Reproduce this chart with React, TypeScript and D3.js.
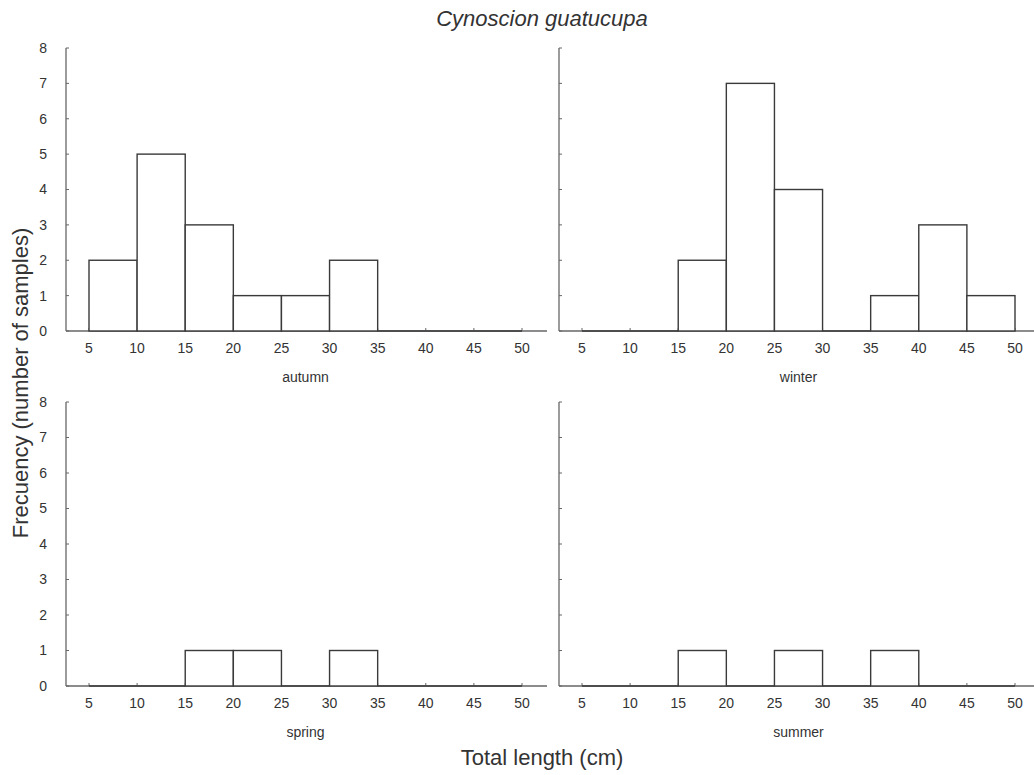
import React from "react";
import * as d3 from "d3";

const binStarts = [5, 10, 15, 20, 25, 30, 35, 40, 45];
const binWidth = 5;
const xTicks = [5, 10, 15, 20, 25, 30, 35, 40, 45, 50];
const yTicks = [0, 1, 2, 3, 4, 5, 6, 7, 8];
const seasons = ["autumn", "winter", "spring", "summer"];
const autumn = [2, 5, 3, 1, 1, 2, 0, 0, 0];
const winter = [0, 0, 2, 7, 4, 0, 1, 3, 1];
const spring = [0, 0, 1, 1, 0, 1, 0, 0, 0];
const summer = [0, 0, 1, 0, 1, 0, 1, 0, 0];
const seriesValues = [autumn, winter, spring, summer];

const panels = [
  { axisX: 66, lineEnd: 547, x0: 89, x1: 522, yTop: 48, yBot: 331, showY: true },
  { axisX: 559, lineEnd: 1034, x0: 582, x1: 1015, yTop: 48, yBot: 331, showY: false },
  { axisX: 66, lineEnd: 547, x0: 89, x1: 522, yTop: 402, yBot: 686, showY: true },
  { axisX: 559, lineEnd: 1034, x0: 582, x1: 1015, yTop: 402, yBot: 686, showY: false },
];

const textColor = "#333";
const axisColor = "#666";
const barColor = "#3a3a3a";
const font = "Liberation Sans, Arial, sans-serif";

function Panel({ p, values, label }: any) {
  const x = d3.scaleLinear().domain([5, 50]).range([p.x0, p.x1]);
  const y = d3.scaleLinear().domain([0, 8]).range([p.yBot, p.yTop]);
  return (
    <g>
      <line x1={p.axisX} x2={p.axisX} y1={y(8)} y2={y(0)} stroke={axisColor} strokeWidth={1.3} />
      {yTicks.map((t) => (
        <g key={"y" + t}>
          <line x1={p.axisX} x2={p.axisX + 3} y1={y(t)} y2={y(t)} stroke={axisColor} strokeWidth={1} />
          {p.showY && (
            <text x={47} y={y(t)} dy="0.35em" textAnchor="end" fontSize={14} fill={textColor}
              fontFamily={font}>{t}</text>
          )}
        </g>
      ))}
      <line x1={p.axisX} x2={p.lineEnd} y1={y(0)} y2={y(0)} stroke={axisColor} strokeWidth={1.3} />
      {xTicks.map((t) => (
        <g key={"x" + t}>
          <line x1={x(t)} x2={x(t)} y1={y(0)} y2={y(0) - 3} stroke={axisColor} strokeWidth={1} />
          <text x={x(t)} y={y(0) + 22} textAnchor="middle" fontSize={14} fill={textColor}
            fontFamily={font}>{t}</text>
        </g>
      ))}
      {binStarts.map((b, i) => {
        const v = values[i];
        const xa = x(b), xb = x(b + binWidth);
        if (v === 0) {
          return <line key={"b" + i} x1={xa} x2={xb} y1={y(0)} y2={y(0)} stroke={barColor} strokeWidth={1.6} />;
        }
        return (
          <rect key={"b" + i} x={xa} y={y(v)} width={xb - xa} height={y(0) - y(v)}
            fill="#fff" stroke={barColor} strokeWidth={1.4} />
        );
      })}
      <text x={(p.x0 + p.x1) / 2} y={y(0) + 51} textAnchor="middle" fontSize={14} fill={textColor}
        fontFamily={font}>{label}</text>
    </g>
  );
}

export default function App() {
  return (
    <svg width={1034} height={775} style={{ position: "absolute", left: 0, top: 0, background: "#fff" }}>
      <rect width={1034} height={775} fill="#fff" />
      <text x={542} y={26} textAnchor="middle" fontSize={22} fontStyle="italic" fill={textColor}
        fontFamily={font}>Cynoscion guatucupa</text>
      {panels.map((p, i) => (
        <Panel key={i} p={p} values={seriesValues[i]} label={seasons[i]} />
      ))}
      <text transform="translate(28,383) rotate(-90)" textAnchor="middle" fontSize={22} fill={textColor}
        fontFamily={font}>Frecuency (number of samples)</text>
      <text x={542} y={765} textAnchor="middle" fontSize={22} fill={textColor}
        fontFamily={font}>Total length (cm)</text>
    </svg>
  );
}
